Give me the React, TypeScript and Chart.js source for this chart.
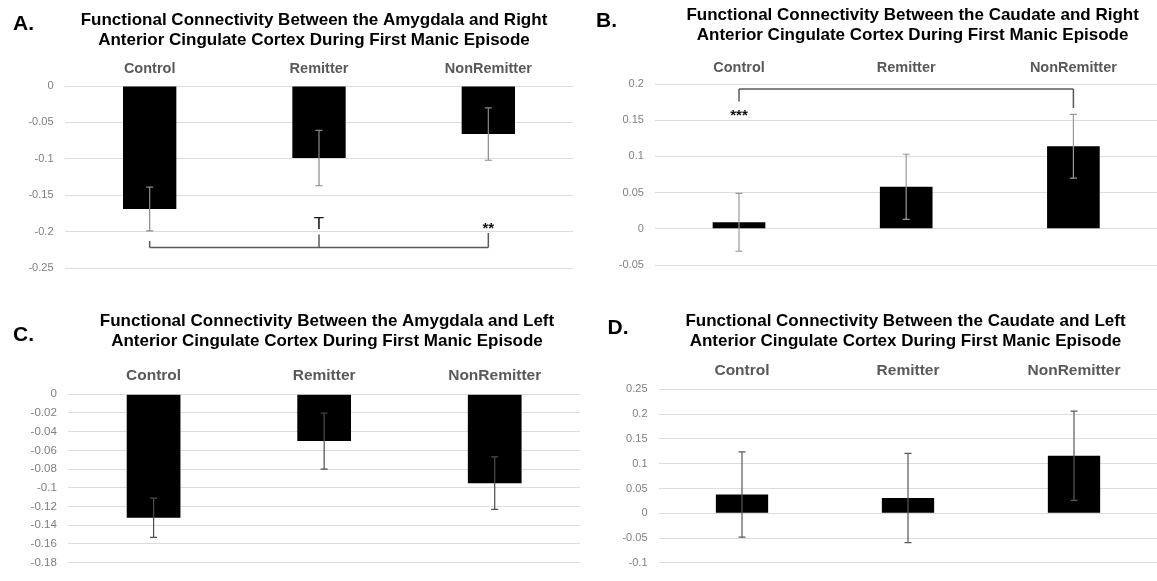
import React, { useEffect, useRef } from "react";
import { Chart, registerables } from "chart.js";

Chart.register(...registerables);

const FONT = "'Liberation Sans', Arial, Helvetica, sans-serif";

// ---------- data ----------
const groups = ["Control", "Remitter", "NonRemitter"];

// Panel A – Amygdala and Right ACC
const titleA = [
  "Functional Connectivity Between the Amygdala and Right",
  "Anterior Cingulate Cortex During First Manic Episode",
];
const meansA = [-0.169, -0.099, -0.066];
const errorsA = [0.03, 0.038, 0.036];
const yTicksA = [-0.25, -0.2, -0.15, -0.1, -0.05, 0];
const bracketA = { groups: [0, 1, 2], level: -0.222, tips: [-0.213, -0.204, -0.202] };
const marksA = [
  { group: 1, value: -0.19, text: "T" },
  { group: 2, value: -0.191, text: "**" },
];

// Panel B – Caudate and Right ACC
const titleB = [
  "Functional Connectivity Between the Caudate and Right",
  "Anterior Cingulate Cortex During First Manic Episode",
];
const meansB = [0.009, 0.058, 0.114];
const errorsB = [0.04, 0.045, 0.044];
const yTicksB = [-0.05, 0, 0.05, 0.1, 0.15, 0.2];
const bracketB = { groups: [0, 2], level: 0.193, tips: [0.176, 0.167] };
const marksB = [{ group: 0, value: 0.161, text: "***" }];

// Panel C – Amygdala and Left ACC
const titleC = [
  "Functional Connectivity Between the Amygdala and Left",
  "Anterior Cingulate Cortex During First Manic Episode",
];
const meansC = [-0.132, -0.05, -0.095];
const errorsC = [0.021, 0.03, 0.028];
const yTicksC = [-0.18, -0.16, -0.14, -0.12, -0.1, -0.08, -0.06, -0.04, -0.02, 0];

// Panel D – Caudate and Left ACC
const titleD = [
  "Functional Connectivity Between the Caudate and Left",
  "Anterior Cingulate Cortex During First Manic Episode",
];
const meansD = [0.038, 0.031, 0.116];
const errorsD = [0.086, 0.09, 0.09];
const yTicksD = [-0.1, -0.05, 0, 0.05, 0.1, 0.15, 0.2, 0.25];

// ---------- layout / style ----------
type Layout = {
  left: number; top: number; width: number; height: number;
  plotLeft: number; plotRight: number; plotTop: number; plotBottom: number;
  titleX: number; titleY: number[]; letter: string; letterX: number; letterY: number;
  catSize: number; catPad: number; tickSize: number; errColor: string;
};

const layoutA: Layout = {
  left: 0, top: 0, width: 580, height: 290,
  plotLeft: 65, plotRight: 573, plotTop: 86, plotBottom: 268,
  titleX: 314, titleY: [20.3, 40], letter: "A.", letterX: 13, letterY: 24.2,
  catSize: 14.5, catPad: 8.3, tickSize: 11, errColor: "#8a8a8a",
};
const layoutB: Layout = {
  left: 580, top: 0, width: 577, height: 290,
  plotLeft: 75.4, plotRight: 577, plotTop: 84, plotBottom: 265,
  titleX: 332.6, titleY: [15.5, 35], letter: "B.", letterX: 16, letterY: 20.8,
  catSize: 14.5, catPad: 7.6, tickSize: 11, errColor: "#999999",
};
const layoutC: Layout = {
  left: 0, top: 290, width: 580, height: 291,
  plotLeft: 68.3, plotRight: 580, plotTop: 104.3, plotBottom: 281.7,
  titleX: 327, titleY: [31.3, 51.5], letter: "C.", letterX: 13, letterY: 45,
  catSize: 15.5, catPad: 9, tickSize: 11.5, errColor: "#4d4d4d",
};
const layoutD: Layout = {
  left: 580, top: 290, width: 577, height: 291,
  plotLeft: 79, plotRight: 577, plotTop: 99.3, plotBottom: 281,
  titleX: 325.5, titleY: [31.2, 51.2], letter: "D.", letterX: 27.6, letterY: 38.3,
  catSize: 15.5, catPad: 9, tickSize: 11, errColor: "#595959",
};

type Bracket = { groups: number[]; level: number; tips: number[] };
type Mark = { group: number; value: number; text: string };

type PanelProps = {
  layout: Layout;
  title: string[];
  means: number[];
  errors: number[];
  yTicks: number[];
  bracket?: Bracket;
  marks?: Mark[];
};

function Panel({ layout, title, means, errors, yTicks, bracket, marks }: PanelProps) {
  const ref = useRef<HTMLCanvasElement>(null);

  useEffect(() => {
    const L = layout;
    const decor = {
      id: "decor",
      afterDatasetsDraw(chart: any) {
        const ctx = chart.ctx as CanvasRenderingContext2D;
        const xs = chart.scales.x;
        const ys = chart.scales.y;
        const meta = chart.getDatasetMeta(0);
        ctx.save();
        // error bars
        ctx.strokeStyle = L.errColor;
        ctx.lineWidth = 1.2;
        meta.data.forEach((bar: any, i: number) => {
          const x = bar.x;
          const yHi = ys.getPixelForValue(means[i] + errors[i]);
          const yLo = ys.getPixelForValue(means[i] - errors[i]);
          ctx.beginPath();
          ctx.moveTo(x, yHi);
          ctx.lineTo(x, yLo);
          ctx.moveTo(x - 3.5, yHi);
          ctx.lineTo(x + 3.5, yHi);
          ctx.moveTo(x - 3.5, yLo);
          ctx.lineTo(x + 3.5, yLo);
          ctx.stroke();
        });
        // significance bracket
        if (bracket) {
          ctx.strokeStyle = "#595959";
          ctx.lineWidth = 1.5;
          const yl = ys.getPixelForValue(bracket.level);
          const x0 = xs.getPixelForValue(bracket.groups[0]);
          const x1 = xs.getPixelForValue(bracket.groups[bracket.groups.length - 1]);
          ctx.beginPath();
          ctx.moveTo(x0, yl);
          ctx.lineTo(x1, yl);
          bracket.groups.forEach((g, k) => {
            const xg = xs.getPixelForValue(g);
            ctx.moveTo(xg, yl);
            ctx.lineTo(xg, ys.getPixelForValue(bracket.tips[k]));
          });
          ctx.stroke();
        }
        if (marks) {
          ctx.fillStyle = "#111";
          ctx.textAlign = "center";
          marks.forEach((m) => {
            const xm = xs.getPixelForValue(m.group);
            const ym = ys.getPixelForValue(m.value);
            if (m.text === "T") {
              ctx.font = `17px ${FONT}`;
              ctx.textBaseline = "middle";
              ctx.fillText(m.text, xm, ym);
            } else {
              ctx.font = `bold 15px ${FONT}`;
              ctx.textBaseline = "alphabetic";
              ctx.fillText(m.text, xm, ym + 8);
            }
          });
        }
        ctx.restore();
      },
      afterDraw(chart: any) {
        const ctx = chart.ctx as CanvasRenderingContext2D;
        ctx.save();
        ctx.fillStyle = "#000";
        ctx.textBaseline = "middle";
        ctx.textAlign = "center";
        ctx.font = `bold 17px ${FONT}`;
        title.forEach((line, i) => ctx.fillText(line, L.titleX, L.titleY[i]));
        ctx.textAlign = "left";
        ctx.font = `bold 21px ${FONT}`;
        ctx.fillText(L.letter, L.letterX, L.letterY);
        ctx.restore();
      },
    };

    const chart = new Chart(ref.current as HTMLCanvasElement, {
      type: "bar",
      data: {
        labels: groups,
        datasets: [
          {
            data: means,
            backgroundColor: "#000000",
            borderWidth: 0,
            categoryPercentage: 1,
            barPercentage: 0.315,
          },
        ],
      },
      options: {
        responsive: false,
        animation: false,
        events: [],
        layout: {
          padding: {
            left: 0,
            top: 0,
            right: L.width - L.plotRight,
            bottom: L.height - L.plotBottom,
          },
        },
        plugins: {
          legend: { display: false },
          tooltip: { enabled: false },
          title: { display: false },
        },
        scales: {
          x: {
            position: "top",
            grid: { display: false, drawTicks: false },
            border: { display: false },
            ticks: {
              color: "#595959",
              font: { family: FONT, size: L.catSize, weight: "bold" },
              padding: L.catPad,
              autoSkip: false,
              maxRotation: 0,
            },
            afterFit: (s: any) => {
              s.height = L.plotTop;
            },
          },
          y: {
            min: yTicks[0],
            max: yTicks[yTicks.length - 1],
            grid: { color: "#dcdcdc", lineWidth: 1, drawTicks: false },
            border: { display: false },
            ticks: {
              color: "#7f7f7f",
              font: { family: FONT, size: L.tickSize },
              padding: 11.5,
              callback: (v: any) => String(v),
            },
            afterBuildTicks: (s: any) => {
              s.ticks = yTicks.map((v) => ({ value: v }));
            },
            afterFit: (s: any) => {
              s.width = L.plotLeft;
            },
          },
        },
      },
      plugins: [decor],
    } as any);
    return () => chart.destroy();
  }, []);

  return (
    <canvas
      ref={ref}
      width={layout.width}
      height={layout.height}
      style={{
        position: "absolute",
        left: layout.left,
        top: layout.top,
        width: layout.width,
        height: layout.height,
        display: "block",
      }}
    />
  );
}

export default function App() {
  return (
    <div
      style={{
        position: "absolute",
        left: 0,
        top: 0,
        width: 1157,
        height: 581,
        background: "#ffffff",
        overflow: "hidden",
      }}
    >
      <Panel layout={layoutA} title={titleA} means={meansA} errors={errorsA} yTicks={yTicksA} bracket={bracketA} marks={marksA} />
      <Panel layout={layoutB} title={titleB} means={meansB} errors={errorsB} yTicks={yTicksB} bracket={bracketB} marks={marksB} />
      <Panel layout={layoutC} title={titleC} means={meansC} errors={errorsC} yTicks={yTicksC} />
      <Panel layout={layoutD} title={titleD} means={meansD} errors={errorsD} yTicks={yTicksD} />
    </div>
  );
}
